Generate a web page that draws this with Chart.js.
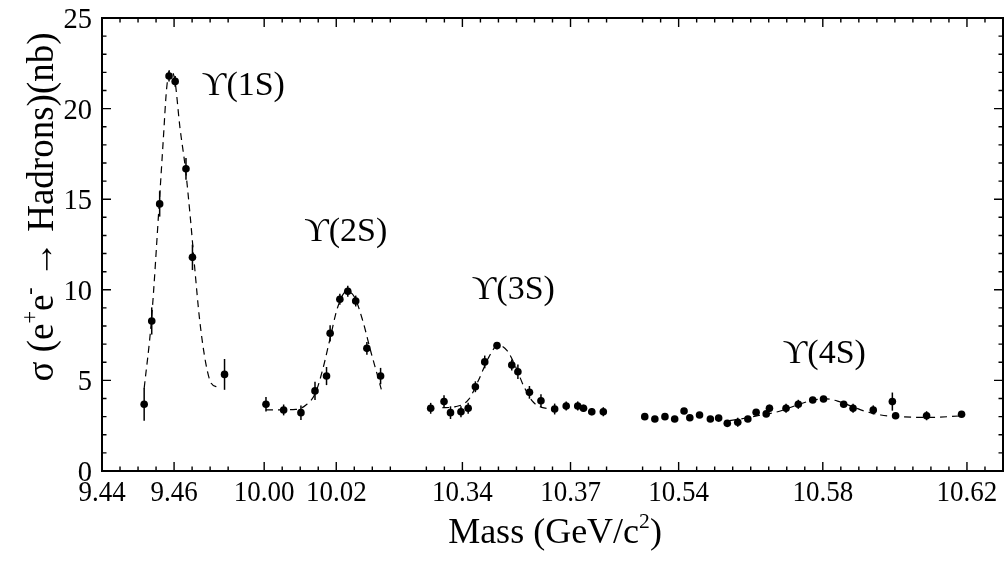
<!DOCTYPE html>
<html>
<head>
<meta charset="utf-8">
<script src="https://cdn.jsdelivr.net/npm/chart.js@4.4.0/dist/chart.umd.min.js"></script>
<style>
  html, body { margin: 0; padding: 0; background: #fff; }
  canvas { display: block; }
</style>
</head>
<body>
<canvas id="myChart" width="1007" height="563"></canvas>
<script>
// broken mass axis (GeV)
var segStart = [9.44, 9.995, 10.325, 10.525];
var segEnd = [9.48, 10.04, 10.385, 10.63];

var tickValues = [9.44, 9.46, 10.0, 10.02, 10.34, 10.37, 10.54, 10.58, 10.62];
var tickLabels = ["9.44", "9.46", "10.00", "10.02", "10.34", "10.37", "10.54", "10.58", "10.62"];
var yTicks = [0, 5, 10, 15, 20, 25];
var peakNames = ["\u03D2(1S)", "\u03D2(2S)", "\u03D2(3S)", "\u03D2(4S)"];

// Y(1S) scan
var mass1 = [9.4517, 9.4538, 9.4560, 9.4586, 9.4603, 9.4633, 9.4651, 9.4740];
var xsec1 = [3.68, 8.28, 14.74, 21.8, 21.5, 16.68, 11.79, 5.33];
var err1 = [0.9, 0.75, 0.7, 0.3, 0.3, 0.6, 0.7, 0.85];
var fitMass1 = [9.4517, 9.4537, 9.4560, 9.4570, 9.4579, 9.4588, 9.4602, 9.4616, 9.4632, 9.4645, 9.4657, 9.4671, 9.4688, 9.4703, 9.4722];
var fitXsec1 = [4.56, 8.28, 15.14, 18.27, 21.03, 22.1, 21.58, 19.0, 16.6, 14.0, 11.27, 8.33, 5.94, 4.84, 4.62];

// Y(2S) scan
var mass2 = [10.0005, 10.0054, 10.0102, 10.0141, 10.0173, 10.0183, 10.0210, 10.0232, 10.0254, 10.0285, 10.0323];
var xsec2 = [3.68, 3.37, 3.22, 4.42, 5.24, 7.60, 9.48, 9.92, 9.38, 6.77, 5.24];
var err2 = [0.4, 0.3, 0.4, 0.5, 0.5, 0.45, 0.3, 0.3, 0.3, 0.35, 0.45];
var fitMass2 = [10.0005, 10.0088, 10.0116, 10.0142, 10.0162, 10.0185, 10.0203, 10.0228, 10.0250, 10.0273, 10.0296, 10.0314, 10.0325];
var fitXsec2 = [3.37, 3.40, 3.64, 4.29, 5.57, 7.5, 8.98, 9.9, 9.62, 8.33, 6.58, 5.30, 4.5];

// Y(3S) scan
var mass3 = [10.3312, 10.3349, 10.3367, 10.3396, 10.3416, 10.3436, 10.3462, 10.3496, 10.3537, 10.3554, 10.3586, 10.3618, 10.3656, 10.3688, 10.3720, 10.3736, 10.3759, 10.3791];
var xsec3 = [3.46, 3.83, 3.22, 3.27, 3.46, 4.65, 6.02, 6.92, 5.85, 5.48, 4.34, 3.88, 3.42, 3.59, 3.59, 3.46, 3.27, 3.27];
var err3 = [0.3, 0.35, 0.35, 0.3, 0.3, 0.3, 0.35, 0.2, 0.3, 0.4, 0.35, 0.35, 0.3, 0.25, 0.25, 0.2, 0.2, 0.25];
var fitMass3 = [10.3344, 10.3381, 10.3418, 10.3445, 10.3473, 10.3499, 10.3524, 10.3547, 10.3570, 10.3593, 10.3620, 10.3648];
var fitXsec3 = [3.49, 3.55, 3.96, 5.02, 6.27, 6.95, 6.64, 5.79, 4.69, 3.88, 3.51, 3.44];

// Y(4S) scan
var mass4 = [10.5306, 10.5334, 10.5362, 10.5389, 10.5415, 10.5431, 10.5458, 10.5488, 10.5511, 10.5535, 10.5564, 10.5592, 10.5615, 10.5643, 10.5652, 10.5698, 10.5732, 10.5772, 10.5802, 10.5858, 10.5884, 10.5940, 10.5993, 10.6002, 10.6088, 10.6185];
var xsec4 = [3.0, 2.87, 3.0, 2.87, 3.31, 2.94, 3.09, 2.87, 2.92, 2.63, 2.69, 2.87, 3.24, 3.15, 3.46, 3.46, 3.68, 3.92, 3.97, 3.68, 3.46, 3.37, 3.83, 3.05, 3.05, 3.13];
var err4 = [0.15, 0.15, 0.15, 0.15, 0.15, 0.15, 0.15, 0.15, 0.15, 0.15, 0.25, 0.15, 0.15, 0.15, 0.2, 0.25, 0.25, 0.15, 0.15, 0.15, 0.25, 0.25, 0.5, 0.15, 0.25, 0.15];
var fitMass4 = [10.5541, 10.5583, 10.5629, 10.5675, 10.5721, 10.5763, 10.5804, 10.5841, 10.5878, 10.5915, 10.5961, 10.6007, 10.6099, 10.6182];
var fitXsec4 = [2.78, 2.91, 3.09, 3.27, 3.59, 3.86, 3.99, 3.86, 3.59, 3.31, 3.09, 3.0, 2.96, 3.04];

// offsets of each segment on the compressed axis
var segOffset = [];
var acc = 0;
for (var k = 0; k < segStart.length; k++) {
  segOffset.push(acc);
  acc += segEnd[k] - segStart[k];
}
var axisMax = acc;

function toAxis(m) {
  for (var k = 0; k < segStart.length; k++) {
    if (m >= segStart[k] - 1e-9 && m <= segEnd[k] + 1e-9) {
      return segOffset[k] + (m - segStart[k]);
    }
  }
  return null;
}

function pts(ms, vs) {
  var out = [];
  for (var i = 0; i < ms.length; i++) out.push({ x: toAxis(ms[i]), y: vs[i] });
  return out;
}

function fitSet(ms, vs) {
  return {
    data: pts(ms, vs),
    showLine: true,
    pointRadius: 0,
    borderColor: "#000",
    borderWidth: 1.2,
    borderDash: [7, 5],
    cubicInterpolationMode: "monotone",
    fill: false,
  };
}
function dataSet(ms, vs, es) {
  return {
    data: pts(ms, vs),
    errors: es,
    showLine: false,
    pointRadius: 3.8,
    pointBackgroundColor: "#000",
    pointBorderWidth: 0,
  };
}

var SERIF = '"Liberation Serif", "DejaVu Serif", serif';

function drawRich(ctx, parts, x, y, size) {
  var cx = x;
  parts.forEach(function (p) {
    var s = p.sup ? size * 0.6 : size;
    ctx.font = s + "px " + SERIF;
    ctx.fillText(p.t, cx, p.sup ? y - size * 0.42 : y);
    cx += ctx.measureText(p.t).width;
  });
}
function richWidth(ctx, parts, size) {
  var w = 0;
  parts.forEach(function (p) {
    ctx.font = (p.sup ? size * 0.6 : size) + "px " + SERIF;
    w += ctx.measureText(p.t).width;
  });
  return w;
}

var errorBars = {
  id: "errorBars",
  afterDatasetsDraw: function (chart) {
    var ctx = chart.ctx;
    var xs = chart.scales.x, ys = chart.scales.y;
    ctx.save();
    ctx.strokeStyle = "#000";
    ctx.lineWidth = 1.5;
    chart.data.datasets.forEach(function (ds) {
      if (!ds.errors) return;
      ds.data.forEach(function (p, i) {
        var px = xs.getPixelForValue(p.x);
        ctx.beginPath();
        ctx.moveTo(px, ys.getPixelForValue(p.y - ds.errors[i]));
        ctx.lineTo(px, ys.getPixelForValue(p.y + ds.errors[i]));
        ctx.stroke();
      });
    });
    ctx.restore();
  },
};

var frame = {
  id: "frame",
  afterDraw: function (chart) {
    var ctx = chart.ctx;
    var a = chart.chartArea;
    var xs = chart.scales.x, ys = chart.scales.y;
    ctx.save();
    ctx.strokeStyle = "#000";
    ctx.fillStyle = "#000";
    ctx.lineWidth = 2;
    ctx.strokeRect(a.left, a.top, a.right - a.left, a.bottom - a.top);

    // x ticks, top and bottom, pointing inward
    ctx.lineWidth = 1.4;
    for (var k = 0; k < segStart.length; k++) {
      for (var m = segStart[k] + 0.005; m < segEnd[k] - 1e-6; m += 0.005) {
        var major = tickValues.some(function (t) { return Math.abs(t - m) < 1e-6; });
        var len = major ? 9 : 4.5;
        var px = xs.getPixelForValue(toAxis(m));
        ctx.beginPath();
        ctx.moveTo(px, a.bottom); ctx.lineTo(px, a.bottom - len);
        ctx.moveTo(px, a.top); ctx.lineTo(px, a.top + len);
        ctx.stroke();
      }
    }
    // y ticks, left and right
    for (var v = 1; v < 25; v++) {
      var l = v % 5 === 0 ? 9 : 4.5;
      var py = ys.getPixelForValue(v);
      ctx.beginPath();
      ctx.moveTo(a.left, py); ctx.lineTo(a.left + l, py);
      ctx.moveTo(a.right, py); ctx.lineTo(a.right - l, py);
      ctx.stroke();
    }

    // tick labels
    ctx.textBaseline = "alphabetic";
    ctx.font = "30px " + SERIF;
    tickValues.forEach(function (t, i) {
      var px = xs.getPixelForValue(toAxis(t));
      ctx.save();
      ctx.translate(px, 501);
      ctx.scale(0.9, 1);
      ctx.textAlign = "center";
      ctx.fillText(tickLabels[i], 0, 0);
      ctx.restore();
    });
    yTicks.forEach(function (t) {
      var py = ys.getPixelForValue(t);
      ctx.save();
      ctx.translate(a.left - 10, py + 10);
      ctx.scale(0.95, 1);
      ctx.textAlign = "right";
      ctx.fillText(String(t), 0, 0);
      ctx.restore();
    });

    // axis titles
    ctx.textAlign = "left";
    var xt = [{ t: "Mass (GeV/c" }, { t: "2", sup: true }, { t: ")" }];
    var xw = richWidth(ctx, xt, 36);
    drawRich(ctx, xt, 555 - xw / 2, 543, 36);

    var yt = [{ t: "\u03C3 (e" }, { t: "+", sup: true }, { t: "e" }, { t: "-", sup: true }, { t: " \u2192 Hadrons)(nb)" }];
    var yw = richWidth(ctx, yt, 37);
    ctx.save();
    ctx.translate(53, 207);
    ctx.rotate(-Math.PI / 2);
    drawRich(ctx, yt, -yw / 2, 0, 37);
    ctx.restore();

    // resonance names
    var spots = [[9.4677, 20.75], [10.0111, 12.7], [10.3426, 9.5], [10.5689, 5.96]];
    ctx.font = "34px " + SERIF;
    peakNames.forEach(function (n, i) {
      ctx.fillText(n, xs.getPixelForValue(toAxis(spots[i][0])), ys.getPixelForValue(spots[i][1]));
    });
    ctx.restore();
  },
};

new Chart("myChart", {
  type: "scatter",
  data: {
    datasets: [
      fitSet(fitMass1, fitXsec1),
      fitSet(fitMass2, fitXsec2),
      fitSet(fitMass3, fitXsec3),
      fitSet(fitMass4, fitXsec4),
      dataSet(mass1, xsec1, err1),
      dataSet(mass2, xsec2, err2),
      dataSet(mass3, xsec3, err3),
      dataSet(mass4, xsec4, err4),
    ],
  },
  options: {
    responsive: false,
    animation: false,
    devicePixelRatio: 1,
    layout: { padding: { top: 18, right: 1, left: 0, bottom: 0 } },
    plugins: { legend: { display: false }, tooltip: { enabled: false } },
    scales: {
      x: {
        type: "linear",
        min: 0,
        max: axisMax,
        grid: { display: false, drawTicks: false },
        border: { display: false },
        ticks: { display: false },
        afterFit: function (s) { s.height = 92; },
      },
      y: {
        min: 0,
        max: 25,
        grid: { display: false, drawTicks: false },
        border: { display: false },
        ticks: { display: false },
        afterFit: function (s) { s.width = 102; },
      },
    },
  },
  plugins: [errorBars, frame],
});
</script>
</body>
</html>
